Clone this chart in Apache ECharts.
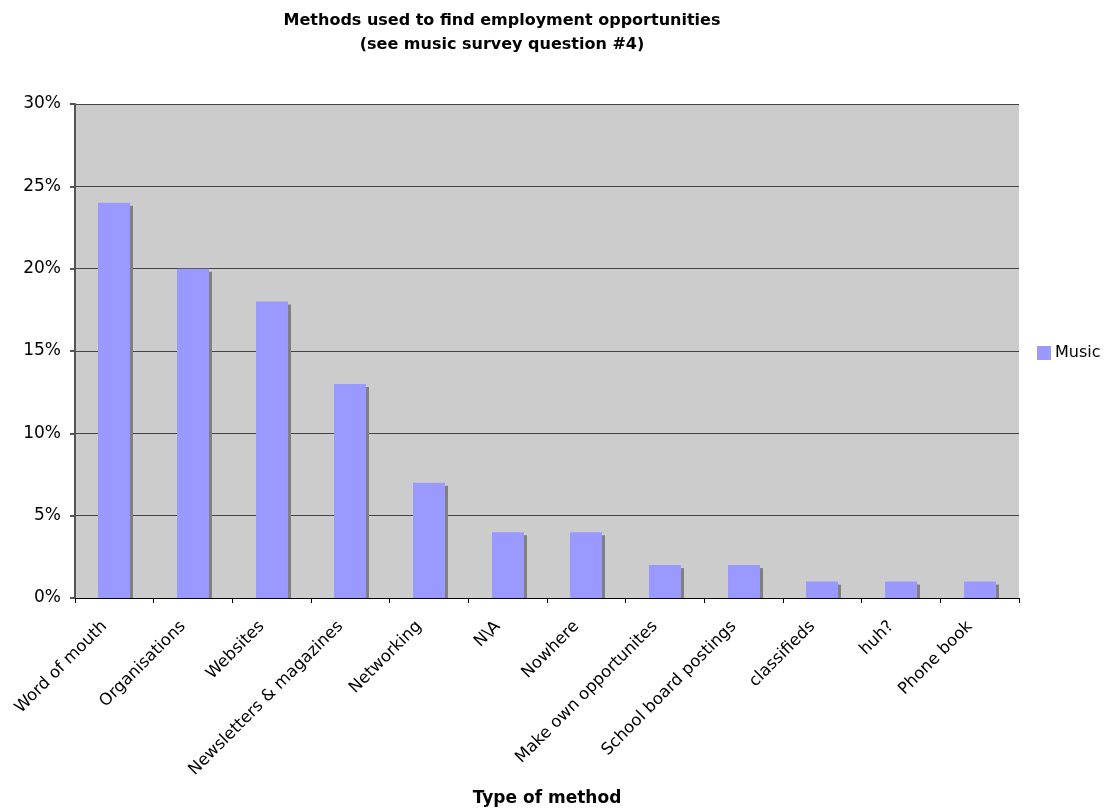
<!DOCTYPE html>
<html>
<head>
<meta charset="utf-8">
<script src="https://cdn.jsdelivr.net/npm/echarts@6/dist/echarts.min.js"></script>
<style>
  html, body { margin: 0; padding: 0; background: #ffffff; }
  #chart { width: 1110px; height: 812px; }
</style>
</head>
<body>
<div id="chart"></div>
<script>
// Survey answers: how respondents find employment opportunities
const categories = [
  'Word of mouth', 'Organisations', 'Websites', 'Newsletters & magazines',
  'Networking', 'N\\A', 'Nowhere', 'Make own opportunites',
  'School board postings', 'classifieds', 'huh?', 'Phone book'
];
const musicPercent = [24, 20, 18, 13, 7, 4, 4, 2, 2, 1, 1, 1];
const yTicks = { min: 0, max: 30, interval: 5 };

const FONT = 'DejaVu Sans, Verdana, sans-serif';
const BAR_COLOR = '#9999FF';
const SHADOW_COLOR = '#808080';

const chart = echarts.init(document.getElementById('chart'), null, { renderer: 'canvas' });

// Bar with a flat drop shadow offset to the lower right
function renderBar(params, api) {
  const idx = api.value(0);
  const top = api.coord([idx, api.value(1)]);
  const base = api.coord([idx, 0]);
  const bandW = api.size([1, 0])[0];
  const w = Math.round(bandW * 0.41);
  const x = Math.round(top[0] - w / 2);
  const y = top[1];
  const h = base[1] - top[1];
  const off = 3;
  return {
    type: 'group',
    children: [
      {
        type: 'rect',
        shape: { x: x + off, y: y + off, width: w, height: Math.max(h - off, 0) },
        style: { fill: SHADOW_COLOR }
      },
      {
        type: 'rect',
        shape: { x: x, y: y, width: w, height: h },
        style: { fill: BAR_COLOR }
      }
    ]
  };
}

chart.setOption({
  animation: false,
  backgroundColor: '#ffffff',
  title: {
    text: 'Methods used to find employment opportunities\n(see music survey question #4)',
    left: 497,
    top: 4,
    textAlign: 'center',
    textStyle: { fontFamily: FONT, fontSize: 16, fontWeight: 'bold', color: '#000', lineHeight: 24 }
  },
  legend: {
    data: [{ name: 'Music', icon: 'rect', itemStyle: { color: BAR_COLOR } }],
    orient: 'vertical',
    left: 1032,
    top: 340,
    itemWidth: 14,
    itemHeight: 14,
    itemGap: 4,
    textStyle: { fontFamily: FONT, fontSize: 16, color: '#000', padding: [0, 0, 0, -1] }
  },
  grid: {
    left: 75,
    right: 91,
    top: 104,
    bottom: 212,
    show: true,
    backgroundColor: '#CCCCCC',
    borderWidth: 0
  },
  xAxis: {
    type: 'category',
    data: categories,
    name: 'Type of method',
    nameLocation: 'middle',
    nameGap: 192,
    nameTextStyle: { fontFamily: FONT, fontSize: 17, fontWeight: 'bold', color: '#000' },
    axisLine: { lineStyle: { color: '#000', width: 1 } },
    axisTick: { show: true, alignWithLabel: false, length: 5, lineStyle: { color: '#000' } },
    axisLabel: {
      rotate: 45,
      interval: 0,
      margin: 16,
      padding: [0, 14, 0, 0],
      fontFamily: FONT,
      fontSize: 16.5,
      color: '#000'
    },
    splitLine: { show: false }
  },
  yAxis: {
    type: 'value',
    min: yTicks.min,
    max: yTicks.max,
    interval: yTicks.interval,
    axisLine: { show: true, lineStyle: { color: '#555', width: 2 } },
    axisTick: { show: true, length: 5, lineStyle: { color: '#555', width: 2 } },
    axisLabel: {
      formatter: '{value}%',
      margin: 14,
      fontFamily: FONT,
      fontSize: 17,
      color: '#000'
    },
    splitLine: { show: true, lineStyle: { color: '#444', width: 1 } }
  },
  series: [{
    name: 'Music',
    type: 'custom',
    itemStyle: { color: BAR_COLOR },
    renderItem: renderBar,
    encode: { x: 0, y: 1 },
    data: musicPercent.map((v, i) => [i, v]),
    z: 2
  }]
});
</script>
</body>
</html>
